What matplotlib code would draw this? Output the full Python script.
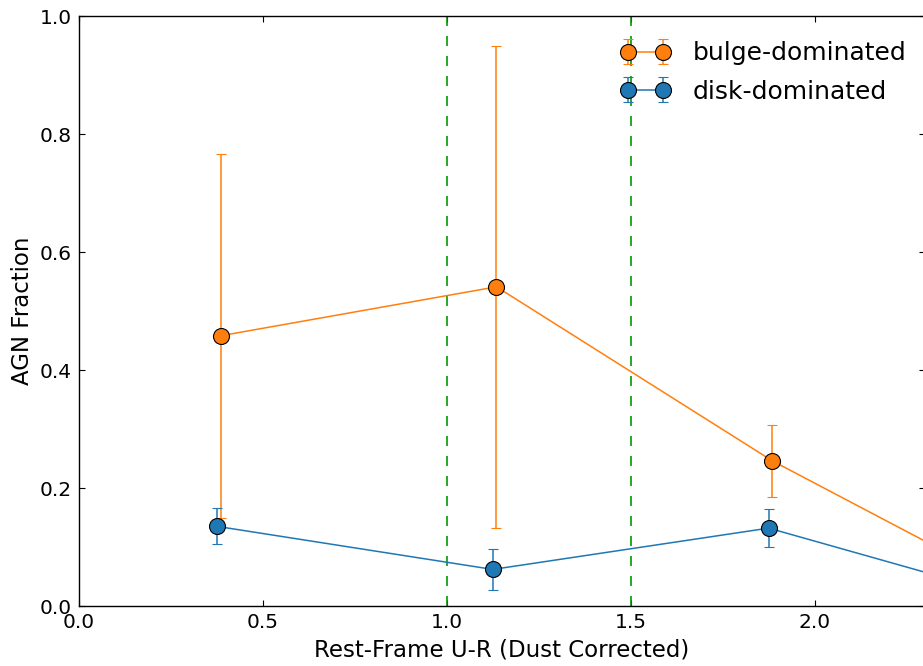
import numpy as np
import matplotlib
matplotlib.use("Agg")
import matplotlib.pyplot as plt

# colour bins (dust corrected U-R), bulge points nudged right so bars don't overlap
bin_centres = np.array([0.375, 1.125, 1.875, 2.625])
bulge_offset = 0.01

bulge_frac = np.array([0.458, 0.541, 0.246, 0.0])
bulge_hi = np.array([0.766, 0.949, 0.307, 0.05])
bulge_lo = np.array([0.149, 0.132, 0.185, 0.0])

disk_frac = np.array([0.135, 0.062, 0.132, 0.0])
disk_hi = np.array([0.166, 0.097, 0.165, 0.03])
disk_lo = np.array([0.105, 0.027, 0.100, 0.0])

colour_cuts = [1.0, 1.5]

plt.rcParams['font.family'] = 'DejaVu Sans'
plt.rcParams['xtick.direction'] = 'in'
plt.rcParams['ytick.direction'] = 'in'
plt.rcParams['xtick.top'] = True
plt.rcParams['ytick.right'] = True
plt.rcParams['xtick.major.size'] = 4
plt.rcParams['ytick.major.size'] = 4

fig = plt.figure(figsize=(9.23, 6.66), dpi=100)
ax = fig.add_axes([79/923, 60/666, 846/923, 590/666])

x_b = bin_centres + bulge_offset
ax.errorbar(x_b, bulge_frac,
            yerr=[bulge_frac - bulge_lo, bulge_hi - bulge_frac],
            color='#ff7f0e', marker='o', ms=11.5, mec='black', mew=0.8,
            lw=1.1, elinewidth=1.1, capsize=3.5, capthick=1.1,
            label='bulge-dominated')
ax.errorbar(bin_centres, disk_frac,
            yerr=[disk_frac - disk_lo, disk_hi - disk_frac],
            color='#1f77b4', marker='o', ms=11.5, mec='black', mew=0.8,
            lw=1.1, elinewidth=1.1, capsize=3.5, capthick=1.1,
            label='disk-dominated')

for c in colour_cuts:
    ax.axvline(c, color=(0, 0.6, 0), ls=(0, (6, 6)), lw=1.2)

ax.set_xlim(0, 2.3)
ax.set_ylim(0, 1.0)
ax.set_xticks([0.0, 0.5, 1.0, 1.5, 2.0])
ax.set_yticks([0.0, 0.2, 0.4, 0.6, 0.8, 1.0])
ax.tick_params(labelsize=14.5, pad=5)
for s in ax.spines.values():
    s.set_linewidth(1.0)

ax.set_xlabel('Rest-Frame U-R (Dust Corrected)', fontsize=16.5, labelpad=5)
ax.set_ylabel('AGN Fraction', fontsize=16.5, labelpad=4)

ax.legend(loc='upper right', numpoints=2, frameon=False, fontsize=18,
          handlelength=2.0, handletextpad=0.9, labelspacing=0.57,
          bbox_to_anchor=(1.0045, 0.995))

fig.savefig('out.png', dpi=100)
